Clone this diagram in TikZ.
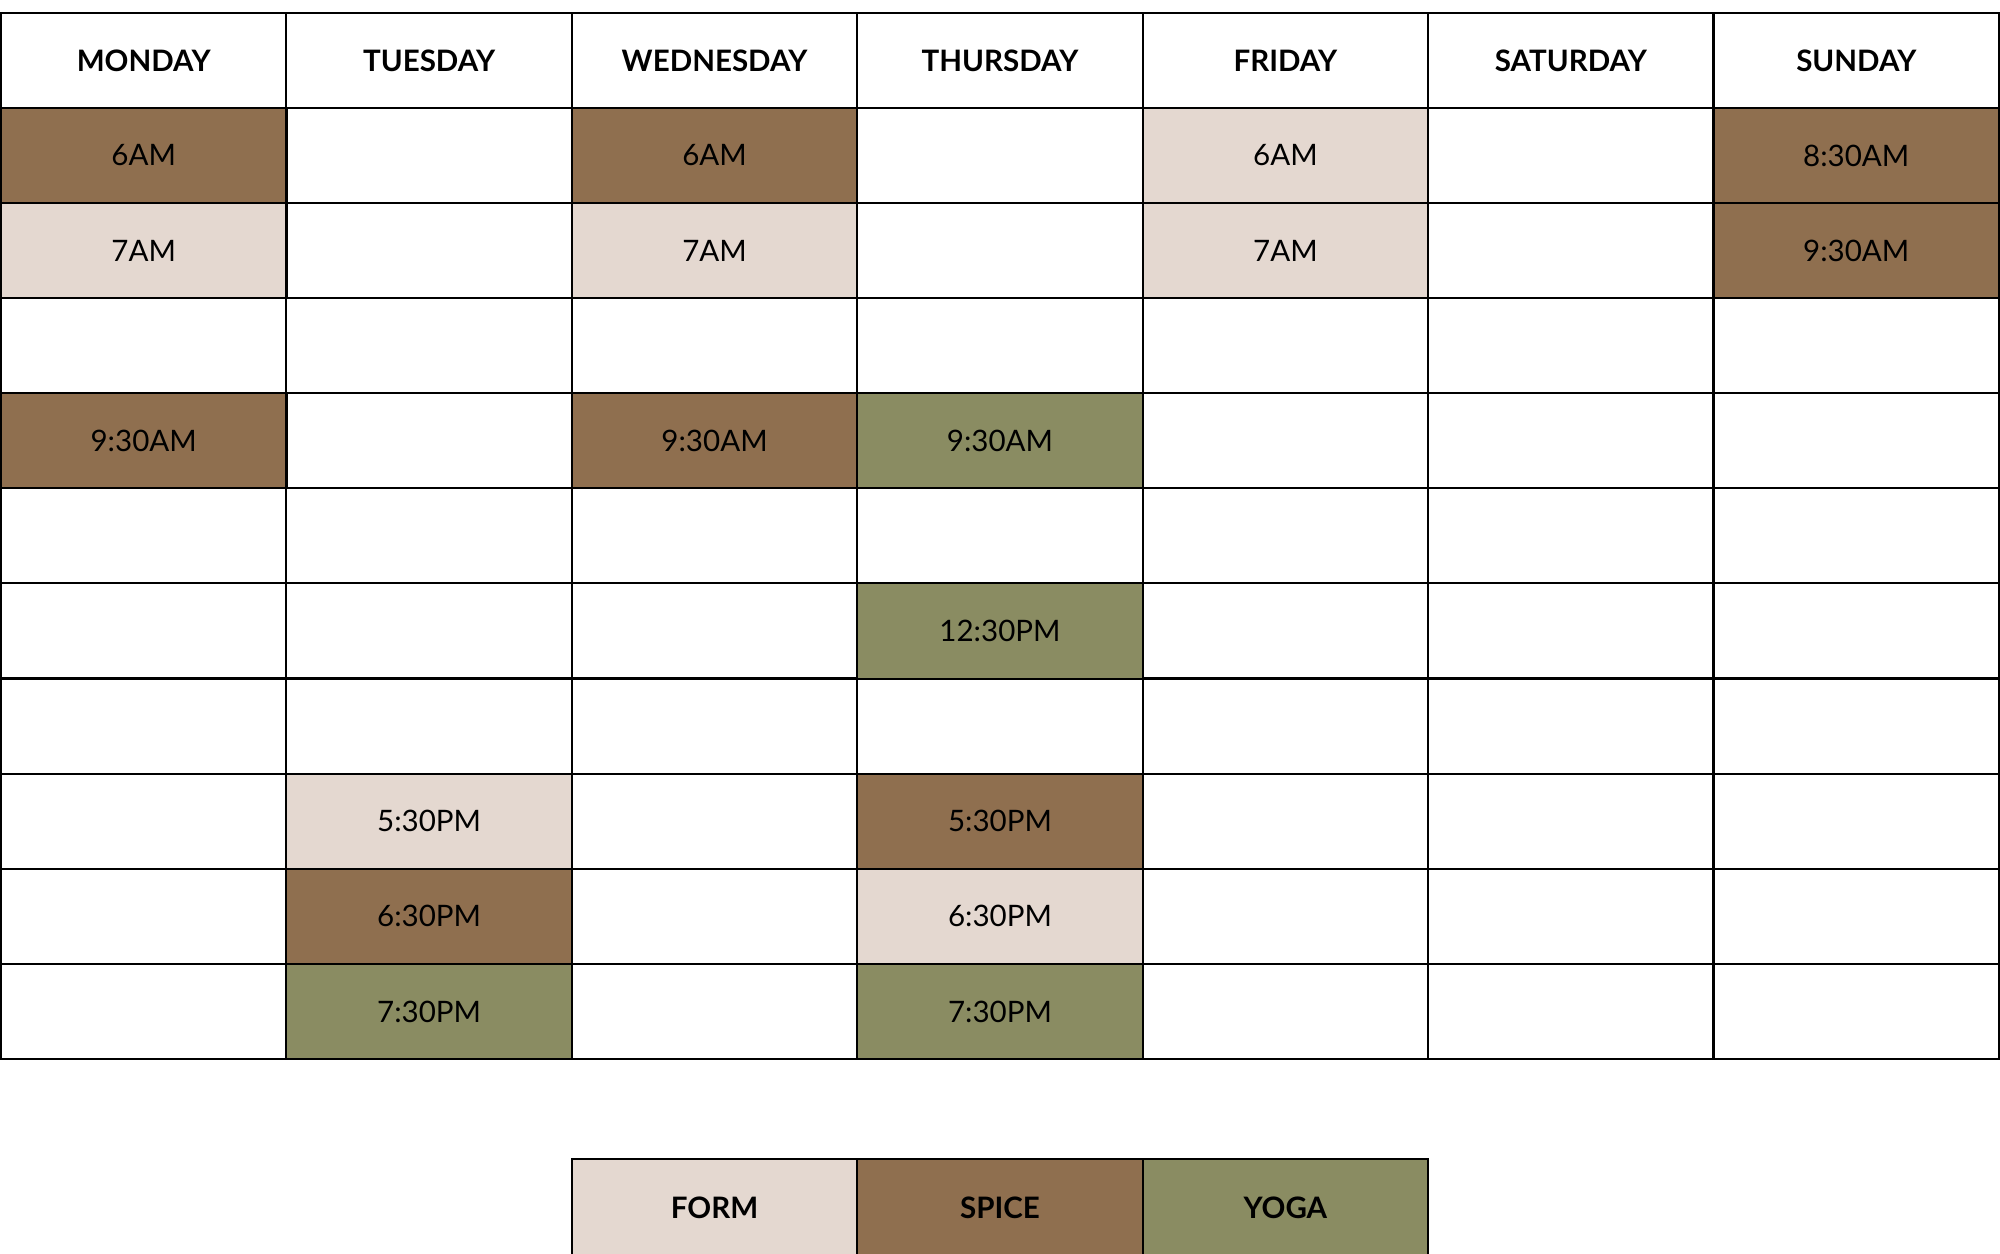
\documentclass[tikz,border=0pt]{standalone}
\usepackage{fontspec}
\setmainfont{Lato}
\definecolor{spice}{RGB}{143,111,79}
\definecolor{form}{RGB}{228,216,208}
\definecolor{yoga}{RGB}{138,140,98}
\tikzset{
  cell/.style={draw=black, line width=0.6pt, minimum width=2.8543cm, minimum height=0.9511cm,
    inner sep=0pt, outer sep=0pt, anchor=center, font=\fontsize{8.4}{10}\selectfont},
  head/.style={font=\fontsize{8.4}{10}\selectfont\bfseries}
}
\newcommand\slot[6][]{\node[cell,fill=#5,#1] (#2) at ({1+285.43*(#3+0.5)},{12.75+95.11*(#4+0.5)}) {#6};}
\begin{document}
\begin{tikzpicture}[x=0.01cm,y=-0.01cm]
\clip (0,0) rectangle (2000,1253);
\fill[white] (0,0) rectangle (2000,1253);
% empty grid
\foreach \c in {0,...,6}{\foreach \r in {0,...,10}{\slot{g\c-\r}{\c}{\r}{white}{}}}
% headers
\slot[head]{hmon}{0}{0}{white}{MONDAY}
\slot[head]{htue}{1}{0}{white}{TUESDAY}
\slot[head]{hwed}{2}{0}{white}{WEDNESDAY}
\slot[head]{hthu}{3}{0}{white}{THURSDAY}
\slot[head]{hfri}{4}{0}{white}{FRIDAY}
\slot[head]{hsat}{5}{0}{white}{SATURDAY}
\slot[head]{hsun}{6}{0}{white}{SUNDAY}
% row 1
\slot{mon1}{0}{1}{spice}{6AM}
\slot{wed1}{2}{1}{spice}{6AM}
\slot{fri1}{4}{1}{form}{6AM}
\slot{sun1}{6}{1}{spice}{8:30AM}
% row 2
\slot{mon2}{0}{2}{form}{7AM}
\slot{wed2}{2}{2}{form}{7AM}
\slot{fri2}{4}{2}{form}{7AM}
\slot{sun2}{6}{2}{spice}{9:30AM}
% row 4
\slot{mon4}{0}{4}{spice}{9:30AM}
\slot{wed4}{2}{4}{spice}{9:30AM}
\slot{thu4}{3}{4}{yoga}{9:30AM}
% row 6
\slot{thu6}{3}{6}{yoga}{12:30PM}
% row 8
\slot{tue8}{1}{8}{form}{5:30PM}
\slot{thu8}{3}{8}{spice}{5:30PM}
% row 9
\slot{tue9}{1}{9}{spice}{6:30PM}
\slot{thu9}{3}{9}{form}{6:30PM}
% row 10
\slot{tue10}{1}{10}{yoga}{7:30PM}
\slot{thu10}{3}{10}{yoga}{7:30PM}
% legend (bottom edge runs off the page)
\node[cell,head,fill=form,minimum height=1.0cm] (lform) at ({1+285.43*2.5},{1159+50}) {\raisebox{0.03cm}{FORM}};
\node[cell,head,fill=spice,minimum height=1.0cm] (lspice) at ({1+285.43*3.5},{1159+50}) {\raisebox{0.03cm}{SPICE}};
\node[cell,head,fill=yoga,minimum height=1.0cm] (lyoga) at ({1+285.43*4.5},{1159+50}) {\raisebox{0.03cm}{YOGA}};
\end{tikzpicture}
\end{document}
